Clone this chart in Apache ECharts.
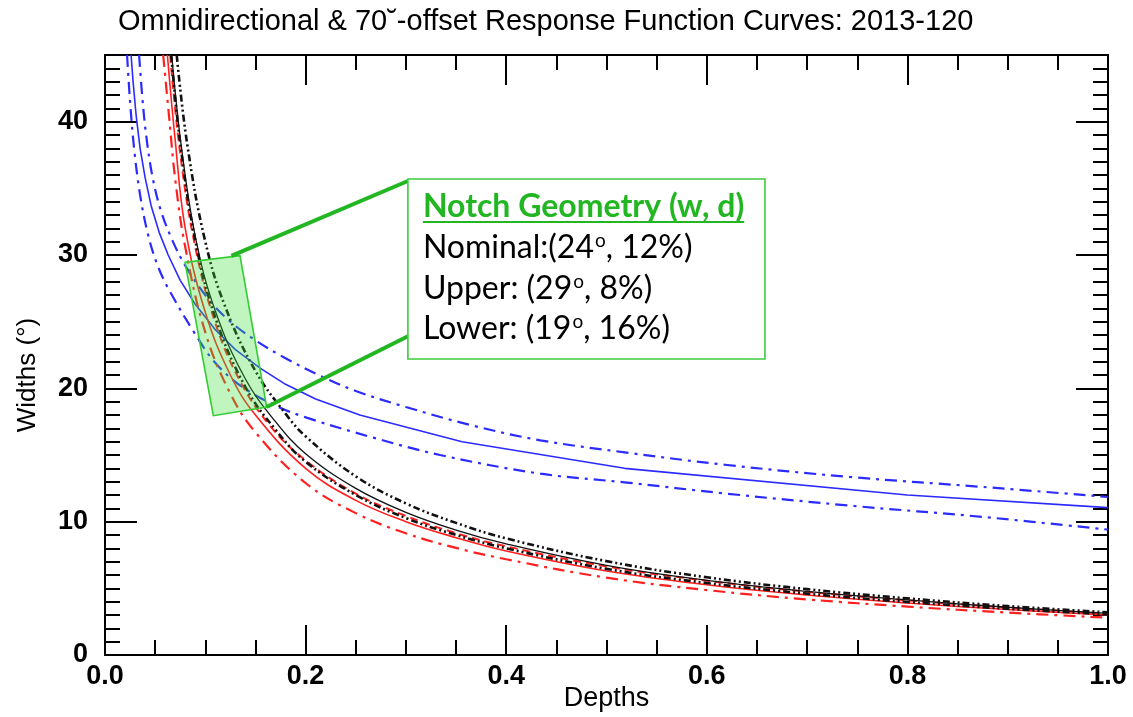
<!DOCTYPE html>
<html>
<head>
<meta charset="utf-8">
<script src="https://cdn.jsdelivr.net/npm/echarts@6/dist/echarts.min.js"></script>
<style>
  html, body { margin: 0; padding: 0; background: #fff; }
  #chart { width: 1133px; height: 717px; }
</style>
</head>
<body>
<div id="chart"></div>
<script>
// ---- Axis ticks ----
const xTickLabels = ['0.0', '0.2', '0.4', '0.6', '0.8', '1.0'];
const yTickLabels = ['0', '10', '20', '30', '40'];

// ---- Omnidirectional response: [depth, width] ----
const omniNominal = [[0.026,45],[0.028,43],[0.031,40.5],[0.035,38],[0.04,35.8],[0.046,33.7],[0.054,31.7],[0.063,30],[0.075,28.1],[0.09,26.3],[0.11,24.4],[0.13,22.9],[0.155,21.5],[0.18,20.3],[0.21,19.2],[0.254,18.0],[0.356,16.0],[0.518,14.0],[0.8,12.0],[1.0,11.05]];
const omniUpper   = [[0.034,45],[0.037,42],[0.041,39],[0.047,36],[0.055,33.5],[0.066,31.3],[0.08,29.2],[0.103,26.7],[0.125,25.0],[0.15,23.6],[0.179,22.3],[0.213,21.0],[0.25,19.8],[0.3,18.6],[0.367,17.2],[0.434,16.1],[0.518,15.2],[0.62,14.25],[0.743,13.35],[0.876,12.6],[1.0,11.85]];
const omniLower   = [[0.022,45],[0.025,41.5],[0.029,38],[0.035,34.5],[0.043,31.5],[0.052,29.3],[0.063,27.5],[0.088,24.3],[0.109,22.0],[0.135,20.2],[0.17,18.7],[0.201,17.8],[0.2675,16.3],[0.334,15.0],[0.434,13.6],[0.518,12.95],[0.62,12.1],[0.743,11.2],[0.876,10.35],[1.0,9.4]];

// ---- 70-degree offset response (red and black families) ----
const redLower     = [[0.058,45],[0.064,40.3],[0.07,35.7],[0.08,30.6],[0.1,24.2],[0.125,19.6],[0.15,16.7],[0.2,12.9],[0.25,10.64],[0.3,9.13],[0.35,8.03],[0.4,7.18],[0.5,5.8],[0.6,4.87],[0.7,4.17],[0.8,3.63],[0.9,3.18],[1.0,2.8]];
const redNominal   = [[0.0622,45],[0.07,38.6],[0.08,32.0],[0.1,25.7],[0.125,21.0],[0.15,18.0],[0.2,14.0],[0.25,11.6],[0.3,10.0],[0.35,8.8],[0.4,7.8],[0.5,6.3],[0.6,5.27],[0.7,4.5],[0.8,3.9],[0.9,3.41],[1.0,3.0]];
const redUpper     = [[0.065,45],[0.075,37.6],[0.09,30.6],[0.11,24.9],[0.135,20.5],[0.165,17.15],[0.2,14.6],[0.25,12.1],[0.3,10.43],[0.35,9.14],[0.4,8.15],[0.5,6.64],[0.6,5.57],[0.7,4.74],[0.8,4.1],[0.9,3.56],[1.0,3.1]];
const blackLower   = [[0.066,45],[0.075,38.4],[0.09,31.1],[0.11,25.3],[0.14,20.1],[0.17,16.9],[0.2,14.5],[0.25,12.0],[0.3,10.27],[0.35,9.0],[0.4,8.0],[0.5,6.46],[0.6,5.4],[0.7,4.6],[0.8,3.98],[0.9,3.47],[1.0,3.05]];
const blackNominal = [[0.0665,45],[0.076,38.2],[0.09,31.4],[0.11,25.8],[0.14,20.7],[0.17,17.5],[0.2,15.1],[0.25,12.5],[0.3,10.7],[0.35,9.37],[0.4,8.33],[0.5,6.72],[0.6,5.6],[0.7,4.77],[0.8,4.13],[0.9,3.58],[1.0,3.12]];
const blackUpper   = [[0.0715,45],[0.082,38.3],[0.1,31.0],[0.12,26.1],[0.15,21.3],[0.18,18.1],[0.2,16.4],[0.25,13.4],[0.3,11.37],[0.35,9.91],[0.4,8.75],[0.5,7.04],[0.6,5.83],[0.7,4.94],[0.8,4.25],[0.9,3.67],[1.0,3.2]];

// ---- Notch geometry region and its note ----
const notchRegion = [[0.0798,29.45],[0.1346,29.95],[0.1612,18.6],[0.108,17.95]];
const calloutFrom = [[0.126,29.94],[0.1612,18.6]];
const calloutTo   = [[0.302,35.55],[0.302,23.9]];
const noteCorners = [[0.302,35.7],[0.658,22.2]];
const noteTitle = 'Notch Geometry (w, d)';
const noteRows = [
  ['Nominal:(24', ', 12%)'],
  ['Upper: (29', ', 8%)'],
  ['Lower: (19', ', 16%)']
];

const chart = echarts.init(document.getElementById('chart'), null, { renderer: 'canvas' });

const BLUE = '#2b2bff', RED = '#ff1f1f', BLACK = '#111111', GREEN = '#22b622';
const DASHDOT = [12, 6, 3, 6];
const DASHDOTDOT = [7, 3, 2, 3, 2, 3];
const AXIS_FONT = 'Liberation Sans';

const measure = (() => {
  const ctx = document.createElement('canvas').getContext('2d');
  return (text, font) => { ctx.font = font; return ctx.measureText(text).width; };
})();

function lineSeries(data, color, width, type, smooth) {
  return {
    type: 'line', data, xAxisIndex: 0, yAxisIndex: 0,
    showSymbol: false, symbol: 'none', silent: true,
    smooth: smooth,
    lineStyle: { color, width, type },
    clip: true
  };
}

const tickLine = { color: '#000', width: 2 };
const hiddenLabel = { show: false };

function xAxisDef(position, interval, len, main) {
  const labelled = main && position === 'bottom';
  return {
    type: 'value', min: 0, max: 1, interval, position,
    axisLine: { show: main, onZero: false, lineStyle: { color: '#000', width: 2 } },
    axisTick: { show: true, inside: true, length: len, lineStyle: tickLine },
    splitLine: { show: false },
    axisLabel: labelled ? {
      show: true, margin: 8, color: '#000', fontSize: 27,
      fontFamily: AXIS_FONT, fontWeight: 'bold',
      formatter: v => xTickLabels[Math.round(v / 0.2)]
    } : hiddenLabel,
    name: labelled ? 'Depths' : '',
    nameLocation: 'middle', nameGap: 30, nameMoveOverlap: false,
    nameTextStyle: { color: '#000', fontSize: 27, fontFamily: AXIS_FONT }
  };
}
function yAxisDef(position, interval, len, main) {
  const labelled = main && position === 'left';
  return {
    type: 'value', min: 0, max: 45, interval, position,
    axisLine: { show: main, onZero: false, lineStyle: { color: '#000', width: 2 } },
    axisTick: { show: true, inside: true, length: len, lineStyle: tickLine },
    splitLine: { show: false },
    axisLabel: labelled ? {
      show: true, margin: 17, color: '#000', fontSize: 27,
      fontFamily: AXIS_FONT, fontWeight: 'bold', showMaxLabel: false,
      formatter: v => (v % 10 === 0 ? yTickLabels[v / 10] : '')
    } : hiddenLabel,
    name: labelled ? 'Widths (°)' : '',
    nameLocation: 'middle', nameGap: 64, nameRotate: 90, nameMoveOverlap: false,
    nameTextStyle: { color: '#000', fontSize: 26, fontFamily: AXIS_FONT, padding: [0, 40, 0, 0] }
  };
}

const annotation = {
  type: 'custom', coordinateSystem: 'cartesian2d', xAxisIndex: 0, yAxisIndex: 0,
  data: [0], silent: true, clip: false, z: 10,
  renderItem(params, api) {
    const poly = notchRegion.map(p => api.coord(p));
    const children = [];
    children.push({
      type: 'polygon', shape: { points: poly },
      style: { fill: 'rgba(60,225,60,0.32)', stroke: '#33cc33', lineWidth: 1.6 }
    });
    for (let i = 0; i < calloutFrom.length; i++) {
      const a = api.coord(calloutFrom[i]), b = api.coord(calloutTo[i]);
      children.push({
        type: 'line', shape: { x1: a[0], y1: a[1], x2: b[0], y2: b[1] },
        style: { stroke: GREEN, lineWidth: 4 }
      });
    }
    const tl = api.coord(noteCorners[0]), br = api.coord(noteCorners[1]);
    children.push({
      type: 'rect', shape: { x: tl[0], y: tl[1], width: br[0] - tl[0], height: br[1] - tl[1] },
      style: { fill: '#fff', stroke: '#3ccc3c', lineWidth: 1.6 }
    });
    const left = tl[0] + 15;
    const titleFont = 'bold 32px Lato';
    const titleY = tl[1] + 28;
    children.push({
      type: 'text', x: left, y: titleY,
      style: { text: noteTitle, font: titleFont, fill: GREEN, verticalAlign: 'middle', align: 'left' }
    });
    const tw = measure(noteTitle, titleFont);
    children.push({
      type: 'line', shape: { x1: left, y1: titleY + 15, x2: left + tw, y2: titleY + 15 },
      style: { stroke: GREEN, lineWidth: 2 }
    });
    const rowFont = '32px Lato', supFont = '19px Lato';
    noteRows.forEach((row, i) => {
      const y = tl[1] + 69 + i * 40.5;
      const w0 = measure(row[0], rowFont);
      const ws = measure('o', supFont);
      children.push({ type: 'text', x: left, y,
        style: { text: row[0], font: rowFont, fill: '#000', verticalAlign: 'middle', align: 'left' } });
      children.push({ type: 'text', x: left + w0 + 1, y: y - 7,
        style: { text: 'o', font: supFont, fill: '#000', verticalAlign: 'middle', align: 'left' } });
      children.push({ type: 'text', x: left + w0 + ws + 1, y,
        style: { text: row[1], font: rowFont, fill: '#000', verticalAlign: 'middle', align: 'left' } });
    });
    return { type: 'group', children };
  }
};

chart.setOption({
  animation: false,
  backgroundColor: '#fff',
  title: {
    text: 'Omnidirectional & 70˘-offset Response Function Curves: 2013-120',
    left: 113, top: 2,
    textStyle: { color: '#000', fontSize: 29, fontWeight: 'normal', fontFamily: AXIS_FONT }
  },
  grid: { left: 105, right: 25, top: 55, bottom: 62, containLabel: false, outerBoundsMode: 'none' },
  xAxis: [
    xAxisDef('bottom', 0.2, 30, true),
    xAxisDef('bottom', 0.05, 15, false),
    xAxisDef('top', 0.2, 30, true),
    xAxisDef('top', 0.05, 15, false)
  ],
  yAxis: [
    yAxisDef('left', 10, 32, true),
    yAxisDef('left', 1, 15, false),
    yAxisDef('right', 10, 32, true),
    yAxisDef('right', 1, 15, false)
  ],
  series: [
    lineSeries(omniLower, BLUE, 2.2, DASHDOT, 0.35),
    lineSeries(omniUpper, BLUE, 2.2, DASHDOT, 0.35),
    lineSeries(omniNominal, BLUE, 1.6, 'solid', false),
    lineSeries(redLower, RED, 2.2, DASHDOT, 0.4),
    lineSeries(redUpper, RED, 2.0, [8, 5], 0.4),
    lineSeries(redNominal, RED, 1.6, 'solid', 0.4),
    lineSeries(blackLower, BLACK, 2.6, DASHDOTDOT, 0.4),
    lineSeries(blackUpper, BLACK, 2.6, DASHDOTDOT, 0.4),
    lineSeries(blackNominal, BLACK, 1.3, 'solid', 0.4),
    annotation
  ]
});
</script>
</body>
</html>
